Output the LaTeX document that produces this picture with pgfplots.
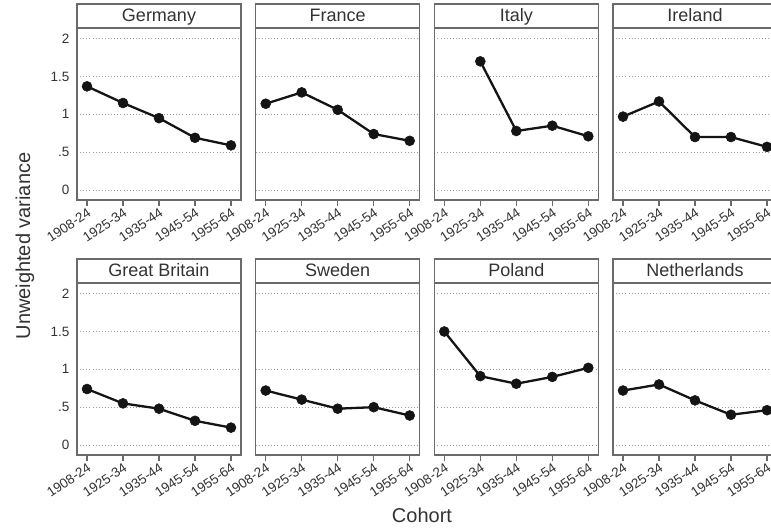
\documentclass[border=0pt]{standalone}
\usepackage{fontspec}
\setmainfont{Liberation Sans}
\usepackage{pgfplots}
\pgfplotsset{compat=1.18}

\definecolor{txt}{HTML}{333333}
\definecolor{frame}{HTML}{6A6A6A}
\definecolor{gridc}{HTML}{9A9A9A}
\definecolor{ink}{HTML}{141414}

% header strip with the country name above each panel
\newcommand\strip[1]{%
  \draw[frame, line width=1.2pt, fill=white] (axis description cs:0,1) rectangle ([yshift=24pt]axis description cs:1,1);
  \node[txt, anchor=base, inner sep=0pt, font=\fontsize{18}{20}\selectfont] at ([yshift=6pt]axis description cs:0.5,1) {#1};}

\pgfplotsset{
  panel/.style={
    scale only axis, width=164pt, height=172pt, anchor=south west,
    clip=false,
    xmin=-0.278, xmax=4.278, ymin=-0.132, ymax=2.141,
    xtick={0,1,2,3,4},
    xticklabels={1908-24,1925-34,1935-44,1945-54,1955-64},
    ytick={0,0.5,1,1.5,2}, yticklabels={},
    ymajorgrids,
    grid style={gridc, line width=0.9pt, dash pattern=on 0.9pt off 2.2pt},
    axis line style={frame, line width=1.2pt},
    tick align=outside, xtick pos=left, ytick pos=left,
    major tick length=5.5pt,
    tick style={frame, line width=1.2pt},
    ytick style={draw=none},
    xticklabel style={rotate=34, anchor=north east, inner sep=1pt,
      txt, font=\fontsize{13.5}{15}\selectfont},
    yticklabel style={txt, font=\fontsize{13.5}{15}\selectfont, inner sep=2pt},
  },
  leftpanel/.style={
    yticklabels={0,.5,1,1.5,2},
    ytick style={frame, line width=1.2pt},
  },
  panel title/.style={extra description/.code={\strip{#1}}},
  series/.style={ink, line width=2.3pt, mark=*, mark size=5pt,
    mark options={fill=ink, draw=ink, line width=0.5pt}},
}

\begin{document}
\begin{tikzpicture}[x=1pt,y=1pt]
\useasboundingbox (0,0) rectangle (771,531);

% top row
\begin{axis}[panel, leftpanel, at={(77pt,331pt)}, panel title=Germany]
\addplot[series] coordinates {(0,1.37)(1,1.15)(2,0.95)(3,0.69)(4,0.59)};
\end{axis}
\begin{axis}[panel, at={(255.7pt,331pt)}, panel title=France]
\addplot[series] coordinates {(0,1.14)(1,1.29)(2,1.06)(3,0.74)(4,0.65)};
\end{axis}
\begin{axis}[panel, at={(434.3pt,331pt)}, panel title=Italy]
\addplot[series] coordinates {(1,1.70)(2,0.78)(3,0.85)(4,0.71)};
\end{axis}
\begin{axis}[panel, at={(613pt,331pt)}, panel title=Ireland]
\addplot[series] coordinates {(0,0.97)(1,1.17)(2,0.70)(3,0.70)(4,0.57)};
\end{axis}

% bottom row
\begin{axis}[panel, leftpanel, at={(77pt,76pt)}, panel title=Great Britain]
\addplot[series] coordinates {(0,0.74)(1,0.55)(2,0.48)(3,0.32)(4,0.23)};
\end{axis}
\begin{axis}[panel, at={(255.7pt,76pt)}, panel title=Sweden]
\addplot[series] coordinates {(0,0.72)(1,0.60)(2,0.48)(3,0.50)(4,0.39)};
\end{axis}
\begin{axis}[panel, at={(434.3pt,76pt)}, panel title=Poland]
\addplot[series] coordinates {(0,1.50)(1,0.91)(2,0.81)(3,0.90)(4,1.02)};
\end{axis}
\begin{axis}[panel, at={(613pt,76pt)}, panel title=Netherlands]
\addplot[series] coordinates {(0,0.72)(1,0.80)(2,0.59)(3,0.40)(4,0.46)};
\end{axis}

\node[txt, rotate=90, font=\fontsize{20}{24}\selectfont] at (25,285) {Unweighted variance};
\node[txt, font=\fontsize{20}{24}\selectfont] at (422,16) {Cohort};
\end{tikzpicture}
\end{document}
